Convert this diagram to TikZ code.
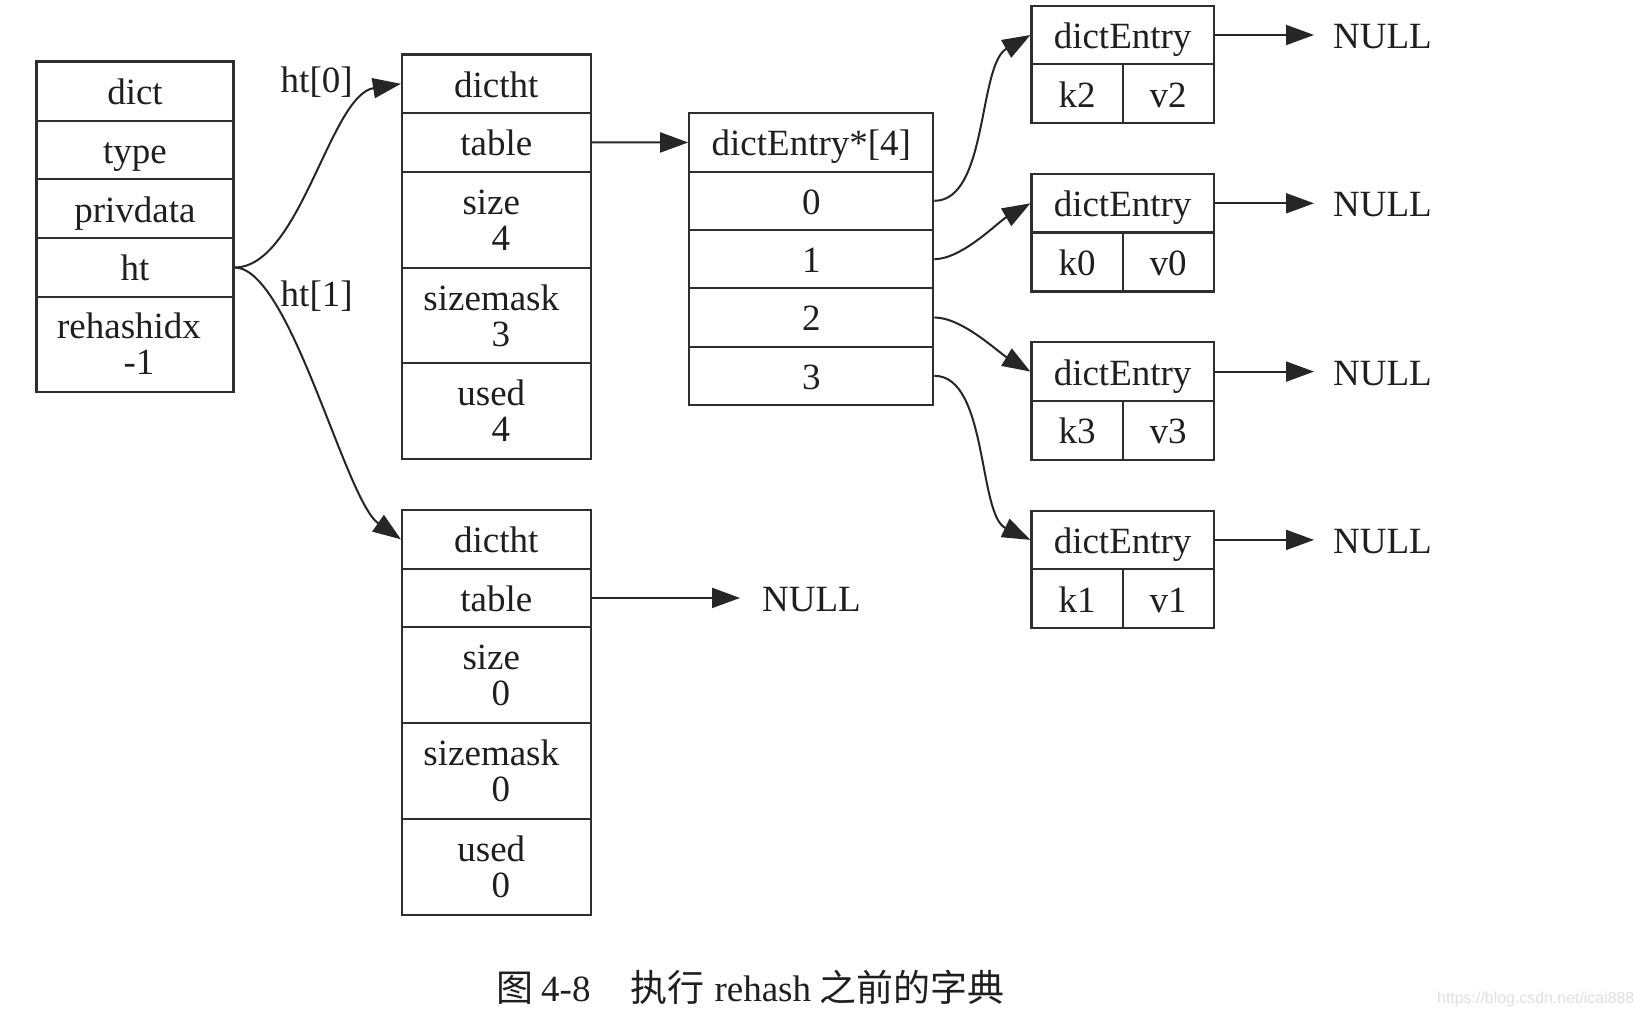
\documentclass[tikz,border=0pt]{standalone}
\usepackage{fontspec}
\setmainfont{Liberation Serif}
\newfontfamily\cjkfont{Noto Sans CJK SC}
\newfontfamily\wmfont{Liberation Sans}
\usetikzlibrary{arrows.meta,calc}
\begin{document}
\begin{tikzpicture}[x=1pt,y=-1pt,
  wh/.style 2 args={minimum width=#1pt, minimum height=#2pt},
  cell/.style={draw=black!82, line width=2.2pt, inner sep=0pt, text height=27pt, text depth=0pt,
    font=\fontsize{37}{36}\selectfont, text=black!88},
  lbl/.style={inner sep=0pt, font=\fontsize{37}{36}\selectfont, text=black!88},
  nulltxt/.style={lbl, text height=27pt, text depth=0pt, anchor=west},
  arr/.style={draw=black!85, line width=2pt, -{Triangle[length=28pt,width=20pt]}},
]
\useasboundingbox[fill=white] (0,0) rectangle (1642,1016);

% dict
\node[cell,wh={197}{59.2}] (dict) at (135,91.1) {dict};
\node[cell,wh={197}{58.6}] (type) at (135,150) {type};
\node[cell,wh={197}{59}] (priv) at (135,208.8) {privdata};
\node[cell,wh={197}{58.4}] (ht) at (135,267.5) {ht};
\node[cell,wh={197}{95.3}] (rehash) at (135,344.35) {};
\node[lbl,anchor=base] (rehashA) at ($(rehash.center)+(-6,-5.5)$) {rehashidx};
\node[lbl,anchor=base] (rehashB) at ($(rehash.center)+(4,30.5)$) {-1};

% upper dictht
\node[cell,wh={188.6}{58.6}] (u0) at (496.3,83.8) {dictht};
\node[cell,wh={188.6}{58.6}] (u1) at (496.3,142.4) {table};
\node[cell,wh={188.6}{96.4}] (u2) at (496.3,219.9) {};
\node[cell,wh={188.6}{95.3}] (u3) at (496.3,315.75) {};
\node[cell,wh={188.6}{95.3}] (u4) at (496.3,411.05) {};
\node[lbl,anchor=base] (u2a) at ($(u2.center)+(-5,-5.5)$) {size};
\node[lbl,anchor=base] (u2b) at ($(u2.center)+(4.5,30.5)$) {4};
\node[lbl,anchor=base] (u3a) at ($(u3.center)+(-5,-5.5)$) {sizemask};
\node[lbl,anchor=base] (u3b) at ($(u3.center)+(4.5,30.5)$) {3};
\node[lbl,anchor=base] (u4a) at ($(u4.center)+(-5,-5.5)$) {used};
\node[lbl,anchor=base] (u4b) at ($(u4.center)+(4.5,30.5)$) {4};

% lower dictht
\node[cell,wh={188.6}{58.6}] (l0) at (496.3,539.3) {dictht};
\node[cell,wh={188.6}{58.7}] (l1) at (496.3,597.95) {table};
\node[cell,wh={188.6}{95.3}] (l2) at (496.3,674.95) {};
\node[cell,wh={188.6}{96.3}] (l3) at (496.3,770.75) {};
\node[cell,wh={188.6}{96.4}] (l4) at (496.3,867.1) {};
\node[lbl,anchor=base] (l2a) at ($(l2.center)+(-5,-5.5)$) {size};
\node[lbl,anchor=base] (l2b) at ($(l2.center)+(4.5,30.5)$) {0};
\node[lbl,anchor=base] (l3a) at ($(l3.center)+(-5,-5.5)$) {sizemask};
\node[lbl,anchor=base] (l3b) at ($(l3.center)+(4.5,30.5)$) {0};
\node[lbl,anchor=base] (l4a) at ($(l4.center)+(-5,-5.5)$) {used};
\node[lbl,anchor=base] (l4b) at ($(l4.center)+(4.5,30.5)$) {0};

% dictEntry*[4]
\node[cell,wh={244}{58.34}] (st) at (811.3,142.47) {dictEntry*[4]};
\node[cell,wh={244}{58.34}] (s0) at (811.3,200.81) {0};
\node[cell,wh={244}{58.34}] (s1) at (811.3,259.15) {1};
\node[cell,wh={244}{58.34}] (s2) at (811.3,317.49) {2};
\node[cell,wh={244}{58.34}] (s3) at (811.3,375.83) {3};

% dictEntry boxes
\node[cell,wh={182.2}{58.6}] (A) at (1122.6,35) {dictEntry};
\node[cell,wh={91.1}{59}] (Ak) at (1077.05,93.8) {k2};
\node[cell,wh={91.1}{59}] (Av) at (1168.15,93.8) {v2};
\node[cell,wh={182.2}{58.6}] (B) at (1122.6,203.3) {dictEntry};
\node[cell,wh={91.1}{59}] (Bk) at (1077.05,262.1) {k0};
\node[cell,wh={91.1}{59}] (Bv) at (1168.15,262.1) {v0};
\node[cell,wh={182.2}{58.6}] (C) at (1122.6,371.6) {dictEntry};
\node[cell,wh={91.1}{59}] (Ck) at (1077.05,430.4) {k3};
\node[cell,wh={91.1}{59}] (Cv) at (1168.15,430.4) {v3};
\node[cell,wh={182.2}{58.6}] (D) at (1122.6,539.9) {dictEntry};
\node[cell,wh={91.1}{59}] (Dk) at (1077.05,598.7) {k1};
\node[cell,wh={91.1}{59}] (Dv) at (1168.15,598.7) {v1};

% NULL texts
\node[nulltxt] (nA) at (1333,35) {NULL};
\node[nulltxt] (nB) at (1333,203.3) {NULL};
\node[nulltxt] (nC) at (1333,371.6) {NULL};
\node[nulltxt] (nD) at (1333,539.9) {NULL};
\node[nulltxt] (nL) at (762,597.95) {NULL};

% edge labels
\node[lbl,anchor=base] (ht0) at (316.7,93) {ht[0]};
\node[lbl,anchor=base] (ht1) at (316.7,307) {ht[1]};

% connectors
\draw[arr] (ht.east) .. controls (300,267.5) and (330,95) .. (u0.west);
\draw[arr] (ht.east) .. controls (290,267.5) and (345,500) .. (l0.west);
\draw[arr] (u1.east) -- (st.west);
\draw[arr, shorten >=22pt] (l1.east) -- (nL.west);
\draw[arr] (s0.east) .. controls (988,200.81) and (978,65) .. (A.west);
\draw[arr] (s1.east) .. controls (962,259.15) and (998,222) .. (B.west);
\draw[arr] (s2.east) .. controls (962,317.49) and (998,352) .. (C.west);
\draw[arr] (s3.east) .. controls (988,375.83) and (978,515) .. (D.west);
\draw[arr, shorten >=19pt] (A.east) -- (nA.west);
\draw[arr, shorten >=19pt] (B.east) -- (nB.west);
\draw[arr, shorten >=19pt] (C.east) -- (nC.west);
\draw[arr, shorten >=19pt] (D.east) -- (nD.west);

% caption
\node[lbl, anchor=base west] (cap) at (496,1001)
  {{\cjkfont 图}\hspace{8pt}4-8\hspace{40pt}{\cjkfont 执行}\hspace{10pt}rehash\hspace{8pt}{\cjkfont 之前的字典}};
% watermark
\node[inner sep=0pt, anchor=base west, font=\wmfont\fontsize{15.9}{16}\selectfont, text=black!12] (wm)
  at (1437,1003) {https://blog.csdn.net/icai888};
\end{tikzpicture}
\end{document}
